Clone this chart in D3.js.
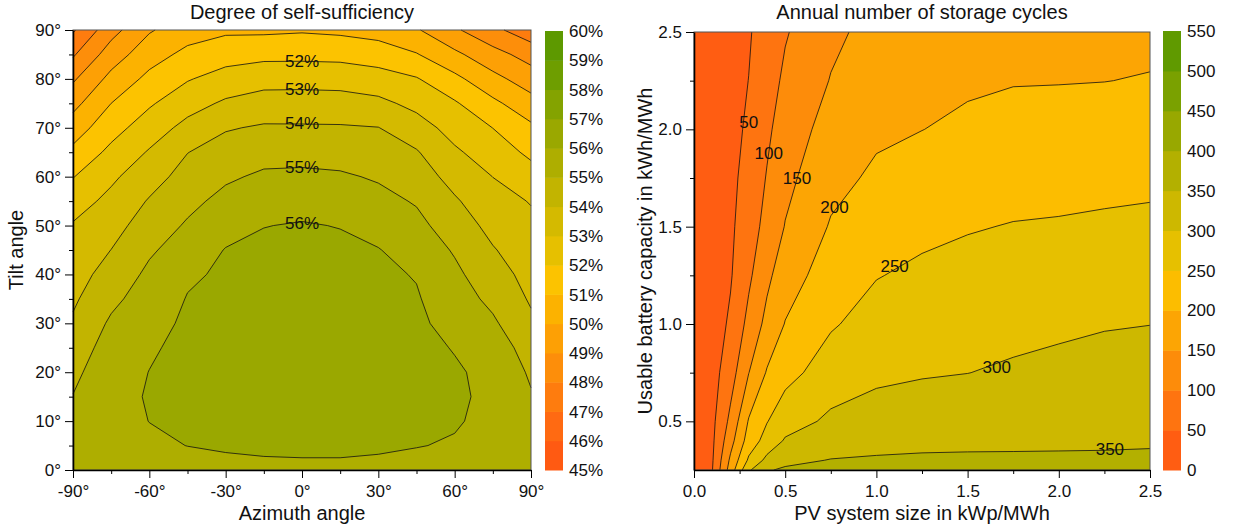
<!doctype html>
<html lang="en">
<head>
<meta charset="utf-8">
<script src="https://d3js.org/d3.v7.min.js"></script>
<style>
  body { margin: 0; background: #fff; }
  svg { display: block; font-family: "Liberation Sans", Arial, sans-serif; }
</style>
</head>
<body>
<svg id="chart" width="1240" height="530"></svg>
<script>
// ---- left panel: degree of self-sufficiency in %, rows = tilt, columns = azimuth
const azimuths = [-90, -75, -60, -45, -30, -15, 0, 15, 30, 45, 60, 75, 90];
const tilts = [0, 5, 10, 15, 20, 25, 30, 35, 40, 45, 50, 55, 60, 65, 70, 75, 80, 85, 90];
const selfSufficiency = [
  [55.40, 55.50, 55.60, 55.65, 55.80, 55.85, 55.85, 55.87, 55.82, 55.70, 55.62, 55.55, 55.45],
  [55.28, 55.62, 55.85, 56.01, 56.08, 56.12, 56.15, 56.13, 56.10, 56.03, 55.93, 55.70, 55.33],
  [55.15, 55.70, 56.01, 56.12, 56.20, 56.30, 56.35, 56.32, 56.24, 56.15, 56.07, 55.80, 55.20],
  [55.03, 55.74, 56.06, 56.18, 56.30, 56.43, 56.50, 56.46, 56.34, 56.22, 56.12, 55.84, 55.08],
  [54.75, 55.70, 56.01, 56.20, 56.35, 56.50, 56.60, 56.54, 56.40, 56.25, 56.09, 55.80, 54.86],
  [54.44, 55.45, 55.92, 56.17, 56.35, 56.52, 56.62, 56.56, 56.40, 56.22, 55.96, 55.60, 54.52],
  [54.13, 55.15, 55.75, 56.12, 56.30, 56.50, 56.60, 56.53, 56.36, 56.16, 55.71, 55.15, 54.18],
  [53.85, 54.77, 55.47, 56.04, 56.22, 56.42, 56.50, 56.44, 56.28, 56.08, 55.45, 54.77, 53.89],
  [53.59, 54.39, 55.20, 55.88, 56.12, 56.30, 56.38, 56.32, 56.17, 55.95, 55.20, 54.42, 53.67],
  [53.33, 54.01, 54.87, 55.45, 56.04, 56.18, 56.25, 56.18, 56.04, 55.58, 54.91, 54.07, 53.44],
  [53.08, 53.63, 54.48, 55.11, 55.65, 55.98, 56.06, 55.97, 55.65, 55.26, 54.52, 53.71, 53.21],
  [52.57, 53.26, 54.08, 54.75, 55.27, 55.54, 55.70, 55.51, 55.28, 54.92, 54.12, 53.36, 52.95],
  [51.96, 52.82, 53.60, 54.37, 54.86, 55.15, 55.20, 55.12, 54.90, 54.50, 53.65, 52.99, 52.39],
  [51.24, 52.24, 53.09, 53.98, 54.41, 54.67, 54.67, 54.62, 54.45, 54.08, 53.15, 52.50, 51.80],
  [50.49, 51.63, 52.49, 53.30, 53.92, 54.11, 54.10, 54.09, 54.02, 53.43, 52.63, 51.99, 51.19],
  [49.70, 51.00, 51.88, 52.61, 53.15, 53.43, 53.45, 53.41, 53.24, 52.73, 52.11, 51.22, 50.36],
  [48.86, 50.29, 51.25, 51.93, 52.38, 52.64, 52.65, 52.62, 52.41, 52.07, 51.25, 50.29, 49.50],
  [47.88, 49.49, 50.59, 51.25, 51.61, 51.74, 51.75, 51.71, 51.53, 51.06, 50.21, 49.36, 48.60],
  [46.88, 48.64, 49.90, 50.56, 50.83, 50.82, 50.90, 50.80, 50.60, 50.10, 49.15, 48.25, 47.40]
];
const ssLevels = d3.range(45, 61, 1);
const ssLabels = [52, 53, 54, 55, 56];
const ssLabelAt = [[0, 83.6], [0, 78], [0, 71], [0, 62], [0, 50.6]];
const azTicks = [-90, -60, -30, 0, 30, 60, 90];
const azMinor = [-75, -45, -15, 15, 45, 75];
const tiltTicks = [0, 10, 20, 30, 40, 50, 60, 70, 80, 90];
const tiltMinor = [5, 15, 25, 35, 45, 55, 65, 75, 85];

// ---- right panel: annual storage cycles, rows = battery capacity, columns = PV size
const pvSizes = [0, 0.1, 0.2, 0.3, 0.4, 0.5, 0.75, 1.0, 1.25, 1.5, 1.75, 2.0, 2.25, 2.5];
const batteryCaps = [0.25, 0.3, 0.4, 0.5, 0.75, 1.0, 1.25, 1.5, 1.75, 2.0, 2.25, 2.5];
const storageCycles = [
  [0, 48, 172, 293, 347, 355, 362, 367, 370, 372, 374, 376, 377, 378],
  [0, 45, 159, 258, 313, 341, 351.5, 354, 355.5, 355.3, 354.9, 354.6, 354.2, 354.5],
  [0, 41, 132, 222, 269, 305, 330, 338, 341, 343, 344, 345, 346, 347],
  [0, 38, 112, 204, 248, 279, 309, 321, 327, 330, 333, 336, 338, 339],
  [0, 31, 78, 149, 204, 234, 274, 290, 296, 299.5, 306, 313, 317, 319],
  [0, 27, 57, 114, 164, 202, 245, 269, 277, 282, 287, 291, 297, 299.5],
  [0, 23, 46, 91, 139, 177, 224, 248, 259, 265, 269, 273, 277, 280],
  [0, 21, 42, 76, 116, 152, 204, 228, 239, 247, 252, 254, 257, 260],
  [0, 19, 39, 66, 103, 137, 186, 208, 219, 227, 233, 235, 238, 240],
  [0, 18, 36, 57, 91, 123, 169, 192, 199.5, 208, 214, 216, 218, 221],
  [0, 17, 33, 50.5, 79, 109, 152, 179, 188, 194, 198, 198.5, 199.5, 202],
  [0, 15, 31, 46, 70, 96, 140, 165, 176, 182, 186, 188, 190, 191]
];
const cycleLevels = d3.range(0, 551, 50);
const cycleLabels = [50, 100, 150, 200, 250, 300, 350];
const cycleLabelAt = [[0.30, 2.04], [0.41, 1.88], [0.565, 1.75], [0.77, 1.6], [1.10, 1.30], [1.66, 0.78], [2.28, 0.357]];
const pvTicks = [0, 0.5, 1, 1.5, 2, 2.5];
const pvMinor = [0.25, 0.75, 1.25, 1.75, 2.25];
const capTicks = [0.5, 1, 1.5, 2, 2.5];
const capMinor = [0.75, 1.25, 1.75, 2.25];

// colour ramp shared by both panels (red-orange -> yellow -> green)
const ramp = d3.scaleLinear()
  .domain([0, 0.1, 0.233, 0.367, 0.433, 0.5, 0.633, 0.767, 0.9, 1])
  .range(["#ff5212", "#ff6a12", "#fd8e0a", "#fcb200", "#fcc300", "#e6c000", "#c2b400", "#9aa800", "#6e9e00", "#559600"]);

const svg = d3.select("#chart");

function drawPanel(p) {
  const g = svg.append("g");
  const n = p.xs.length, m = p.ys.length;
  const x = d3.scaleLinear().domain(p.xDomain).range([p.box.l, p.box.r]);
  const y = d3.scaleLinear().domain(p.yDomain).range([p.box.b, p.box.t]);
  // grid index -> data value (grids may be non-uniform)
  const ix = d3.scaleLinear().domain(d3.range(n)).range(p.xs).clamp(true);
  const iy = d3.scaleLinear().domain(d3.range(m)).range(p.ys).clamp(true);
  const px = c => x(ix(c - 0.5)), py = c => y(iy(c - 0.5));
  const path = d3.geoPath(d3.geoTransform({ point(a, b) { this.stream.point(px(a), py(b)); } }));
  const bands = d3.contours().size([n, m]).thresholds(p.levels)(p.grid.flat());
  const nb = p.levels.length - 1;
  const color = k => ramp((k + 0.5) / nb);

  g.append("g").selectAll("path").data(bands).join("path")
    .attr("d", path)
    .attr("fill", (d, k) => color(k));

  // iso lines without the plot border pieces
  function isoLine(geom) {
    let d = "";
    const lo = 0.5, hx = n - 0.5, hy = m - 0.5;
    geom.coordinates.forEach(poly => poly.forEach(ring => {
      let open = false;
      for (let k = 1; k < ring.length; k++) {
        const a = ring[k - 1], b = ring[k];
        const edge = (a[0] <= lo && b[0] <= lo) || (a[0] >= hx && b[0] >= hx) ||
                     (a[1] <= lo && b[1] <= lo) || (a[1] >= hy && b[1] >= hy);
        if (edge) { open = false; continue; }
        if (!open) { d += `M${px(a[0]).toFixed(2)},${py(a[1]).toFixed(2)}`; open = true; }
        d += `L${px(b[0]).toFixed(2)},${py(b[1]).toFixed(2)}`;
      }
    }));
    return d;
  }
  g.append("g")
    .attr("fill", "none").attr("stroke", "#111").attr("stroke-width", 0.8)
    .selectAll("path").data(bands).join("path")
    .attr("d", isoLine);

  g.append("g").selectAll("text").data(p.labels).join("text")
    .attr("x", (d, i) => x(p.labelAt[i][0]))
    .attr("y", (d, i) => y(p.labelAt[i][1]))
    .attr("dy", "0.36em")
    .attr("text-anchor", "middle")
    .attr("font-size", 17)
    .attr("fill", "#111")
    .text(p.labelFmt);

  g.append("rect")
    .attr("x", p.box.l).attr("y", p.box.t)
    .attr("width", p.box.r - p.box.l).attr("height", p.box.b - p.box.t)
    .attr("fill", "none").attr("stroke", "#555").attr("stroke-width", 1);

  const styleAxis = s => {
    s.attr("font-family", null).attr("font-size", 17);
    s.selectAll("text").attr("fill", "#111");
    s.selectAll("line").attr("stroke", "#000");
    s.select(".domain").attr("stroke", "#000").attr("stroke-width", 1.6);
  };
  g.append("g").attr("transform", `translate(0,${p.box.b})`)
    .call(d3.axisBottom(x).tickValues(p.xMinor).tickSize(4).tickFormat(""))
    .call(s => s.select(".domain").remove());
  g.append("g").attr("transform", `translate(${p.box.l},0)`)
    .call(d3.axisLeft(y).tickValues(p.yMinor).tickSize(4).tickFormat(""))
    .call(s => s.select(".domain").remove());
  g.append("g").attr("transform", `translate(0,${p.box.b})`)
    .call(d3.axisBottom(x).tickValues(p.xTicks).tickFormat(p.fmtX).tickSize(8).tickPadding(7).tickSizeOuter(0))
    .call(styleAxis);
  g.append("g").attr("transform", `translate(${p.box.l},0)`)
    .call(d3.axisLeft(y).tickValues(p.yTicks).tickFormat(p.fmtY).tickSize(8).tickPadding(4).tickSizeOuter(0))
    .call(styleAxis);

  // titles
  const cx = (p.box.l + p.box.r) / 2;
  g.append("text").attr("x", cx).attr("y", 19).attr("text-anchor", "middle")
    .attr("font-size", 20).attr("fill", "#111").text(p.title);
  g.append("text").attr("x", cx).attr("y", 520).attr("text-anchor", "middle")
    .attr("font-size", 20).attr("fill", "#111").text(p.xTitle);
  g.append("text")
    .attr("transform", `translate(${p.yTitleX},${(p.box.t + p.box.b) / 2}) rotate(-90)`)
    .attr("text-anchor", "middle")
    .attr("font-size", 20).attr("fill", "#111").text(p.yTitle);

  // colour bar
  const cb = d3.scaleLinear().domain([p.levels[0], p.levels[nb]]).range([p.box.b, p.bar.t]);
  g.append("g").selectAll("rect").data(d3.range(nb)).join("rect")
    .attr("x", p.bar.x).attr("width", p.bar.w)
    .attr("y", k => cb(p.levels[k + 1]))
    .attr("height", k => cb(p.levels[k]) - cb(p.levels[k + 1]) + 0.5)
    .attr("fill", k => color(k));
  g.append("g").selectAll("text").data(p.levels).join("text")
    .attr("x", p.bar.x + p.bar.w + 6)
    .attr("y", d => cb(d))
    .attr("dy", "0.36em")
    .attr("font-size", 17).attr("fill", "#111")
    .text(p.fmtBar);
}

drawPanel({
  xs: azimuths, ys: tilts, grid: selfSufficiency, levels: ssLevels,
  xDomain: [-90, 90], yDomain: [0, 90],
  box: { l: 73, r: 531, t: 30, b: 470 },
  bar: { x: 545, w: 18, t: 31 },
  xTicks: azTicks, xMinor: azMinor, yTicks: tiltTicks, yMinor: tiltMinor,
  fmtX: d => d + "°", fmtY: d => d + "°", fmtBar: d => d + "%",
  labels: ssLabels, labelAt: ssLabelAt, labelFmt: d => d + "%",
  title: "Degree of self-sufficiency", xTitle: "Azimuth angle", yTitle: "Tilt angle", yTitleX: 23
});

drawPanel({
  xs: pvSizes, ys: batteryCaps, grid: storageCycles, levels: cycleLevels,
  xDomain: [0, 2.5], yDomain: [0.25, 2.5],
  box: { l: 694, r: 1150, t: 32, b: 470 },
  bar: { x: 1163, w: 18, t: 31 },
  xTicks: pvTicks, xMinor: pvMinor, yTicks: capTicks, yMinor: capMinor,
  fmtX: d3.format(".1f"), fmtY: d3.format(".1f"), fmtBar: d => d,
  labels: cycleLabels, labelAt: cycleLabelAt, labelFmt: d => d,
  title: "Annual number of storage cycles", xTitle: "PV system size in kWp/MWh",
  yTitle: "Usable battery capacity in kWh/MWh", yTitleX: 652
});
</script>
</body>
</html>
